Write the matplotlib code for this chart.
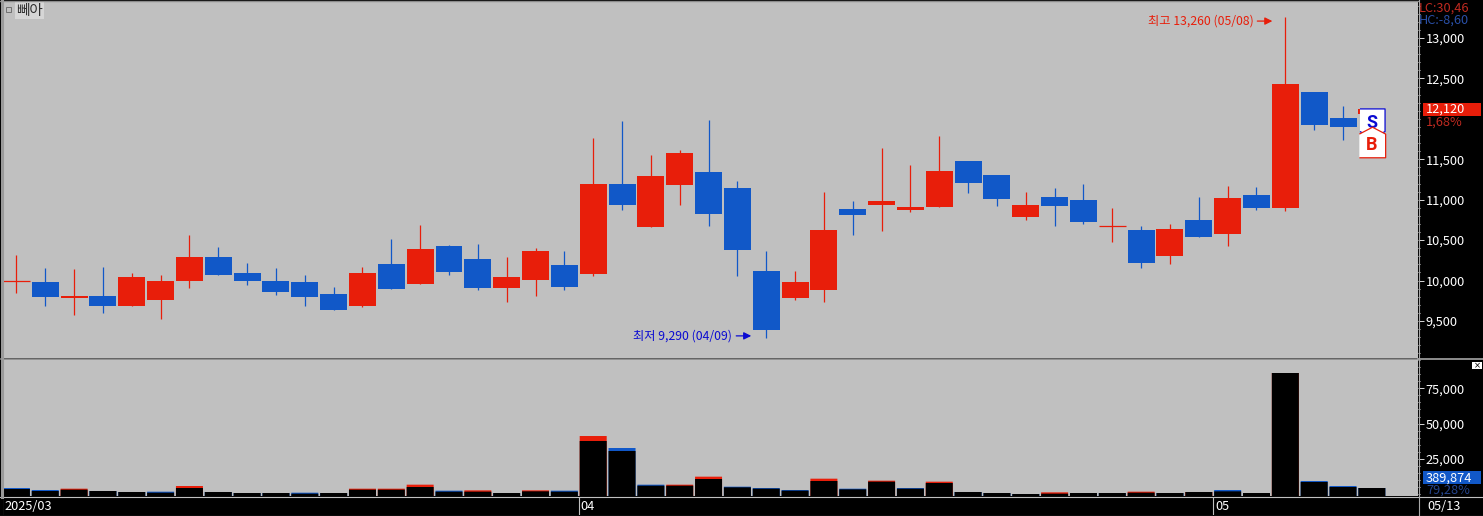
import matplotlib
matplotlib.use("Agg")
import matplotlib.pyplot as plt
import numpy as np
from matplotlib.ticker import FixedLocator, MultipleLocator, StrMethodFormatter
from matplotlib.transforms import offset_copy

plt.rcParams['font.family'] = ['Noto Sans CJK KR', 'DejaVu Sans']

RED = '#e81e0a'
BLUE = '#1158c8'
BG = '#c0c0c0'
LABEL_SIZE = 9.2

# daily candles, 2025/03 .. 05/13
opens = [10000, 9980, 9780, 9810, 9680, 9760, 9990, 10290, 10090, 9990,
         9980, 9830, 9690, 10200, 9960, 10430, 10270, 9910, 10010, 10190,
         10080, 11190, 10660, 11180, 11340, 11150, 10120, 9780, 9880, 10890,
         10930, 10870, 10910, 11480, 11310, 10790, 11030, 11000, 10670, 10630,
         10300, 10750, 10580, 11060, 10900, 12330, 12010, 12060]
closes = [10000, 9800, 9805, 9680, 10040, 9990, 10290, 10070, 9990, 9860,
          9800, 9630, 10090, 9900, 10390, 10100, 9910, 10040, 10370, 9920,
          11190, 10930, 11290, 11580, 10820, 10380, 9390, 9980, 10630, 10810,
          10980, 10910, 11360, 11210, 11010, 10930, 10920, 10720, 10670, 10220,
          10640, 10540, 11020, 10900, 12430, 11930, 11900, 12120]
highs = [10310, 10160, 10140, 10170, 10090, 10070, 10560, 10420, 10220, 10150,
         10070, 9920, 10170, 10510, 10690, 10440, 10450, 10290, 10400, 10370,
         11760, 11970, 11550, 11610, 11990, 11230, 10370, 10120, 11100, 10980,
         11640, 11430, 11790, 11480, 11310, 11100, 11150, 11190, 10900, 10670,
         10700, 11030, 11170, 11160, 13260, 12330, 12160, 12120]
lows = [9850, 9680, 9570, 9600, 9680, 9520, 9910, 10070, 9950, 9820,
        9680, 9630, 9670, 9900, 9960, 10070, 9880, 9730, 9810, 9880,
        10060, 10870, 10660, 10930, 10670, 10060, 9290, 9760, 9730, 10560,
        10610, 10850, 10910, 11080, 10920, 10750, 10670, 10700, 10480, 10160,
        10200, 10540, 10430, 10870, 10860, 11860, 11740, 12000]

# volume: black bar and the coloured cap on top of it
volume = [3780, 2360, 3300, 2360, 1660, 1180, 4480, 1660, 950, 950,
          480, 950, 3300, 3300, 5190, 1890, 1890, 950, 2130, 1890,
          37720, 30650, 6130, 6130, 10850, 4960, 4010, 2600, 9430, 3540,
          8960, 4010, 8020, 1660, 950, 240, 480, 950, 950, 1180,
          950, 1660, 2130, 950, 85800, 8730, 5190, 4480]
volume_cap = [4480, 3070, 4010, 2360, 1660, 1890, 5900, 1660, 950, 950,
              1180, 950, 4010, 4010, 6840, 2600, 2830, 950, 2830, 2600,
              41250, 32770, 6840, 6840, 12500, 5430, 4480, 3070, 11080, 4010,
              9670, 4480, 8960, 1660, 950, 240, 1420, 950, 950, 1890,
              950, 1660, 3070, 950, 85800, 9430, 5900, 4480]
cap_colors = list('bbrbbbrbbb' 'bbrrrbrbrb' 'rbbrrbbbrb' 'rbrbbbrbbr' 'brbbrbbb')

price_ticks = [9500, 10000, 10500, 11000, 11500, 12500, 13000]
volume_ticks = [25000, 50000, 75000]
month_starts = [0, 20, 42]
month_labels = ['2025/03', '04', '05']
last_date = '05/13'

high_label = '최고 13,260 (05/08)'
low_label = '최저 9,290 (04/09)'
high_idx = 44
low_idx = 26
sell_price = 11955
buy_price = 11714


def px_axes(fig, left, top, right, bottom):
    W, H = fig.get_size_inches() * fig.dpi
    return fig.add_axes([left / W, 1 - bottom / H, (right - left) / W, (bottom - top) / H])


def style_right(ax, major, minor, fmt):
    ax.yaxis.tick_right()
    ax.yaxis.set_major_locator(FixedLocator(major))
    ax.yaxis.set_minor_locator(MultipleLocator(minor))
    ax.yaxis.set_major_formatter(StrMethodFormatter(fmt))
    ax.tick_params(axis='y', which='major', length=4.5, width=0.7, color='#d8d8d8',
                   labelcolor='white', labelsize=LABEL_SIZE, pad=1)
    ax.tick_params(axis='y', which='minor', length=1.6, width=0.7, color='#d8d8d8')
    ax.tick_params(axis='x', which='both', bottom=False, labelbottom=False)
    for s in ax.spines.values():
        s.set_visible(False)


fig = plt.figure(figsize=(14.83, 5.16), dpi=100, facecolor='black')
x = np.arange(len(opens))
o, c, h, l = map(np.array, (opens, closes, highs, lows))
up = c >= o
colors = np.where(up, RED, BLUE)
xlim = (-0.465, 48.6)
bar_w = 0.936

# price pane
ax = px_axes(fig, 3, 1, 1418, 358)
ax.set_facecolor(BG)
ax.set_xlim(xlim)
ax.set_ylim(9041, 13459)
style_right(ax, price_ticks, 100, '{x:,.0f}')

ax.vlines(x, l, h, colors=colors, linewidth=0.9, zorder=2)
flat = o == c
ax.bar(x[~flat], np.abs(c - o)[~flat], bottom=np.minimum(o, c)[~flat], width=bar_w,
       color=colors[~flat], linewidth=0, zorder=3)
ax.hlines(o[flat], x[flat] - bar_w / 2, x[flat] + bar_w / 2, colors=colors[flat], linewidth=0.9, zorder=3)

# high / low notes, placed relative to their candles
for idx, price, label, col, dx, dy in ((high_idx, highs[high_idx], high_label, RED, -13, -4),
                                        (low_idx, lows[low_idx], low_label, '#0a0ad2', -15, 2)):
    tr = offset_copy(ax.transData, fig=fig, x=dx, y=dy, units='dots')
    ax.annotate('', xy=(idx, price), xycoords=tr,
                xytext=(-15, 0), textcoords='offset pixels',
                arrowprops=dict(arrowstyle='-|>', color=col, lw=0.9, mutation_scale=11,
                                shrinkA=0, shrinkB=0), zorder=6)
    ax.annotate(label, xy=(idx, price), xycoords=tr, xytext=(-19, 0), textcoords='offset pixels',
                ha='right', va='center', color=col, fontsize=8.8, zorder=6)

# S / B signal markers on the last candle
s_shape = [(-.86, 1), (.86, 1), (.86, -.55), (0, -1), (-.86, -.55)]
b_shape = [(-.86, -1), (.86, -1), (.86, .55), (0, 1), (-.86, .55)]
ax.plot([47], [sell_price], marker=s_shape, ms=21, mfc='white', mec='#0a0ad2', mew=0.9, zorder=7)
ax.text(47, sell_price, 'S', color='#0a0ad2', fontsize=13, fontweight='bold', family='Roboto',
        ha='center', va='center', zorder=8)
ax.plot([47], [buy_price], marker=b_shape, ms=22, mfc='white', mec=RED, mew=0.9, zorder=9)
ax.text(47, buy_price - 40, 'B', color=RED, fontsize=13, fontweight='bold', family='Roboto',
        ha='center', va='center', zorder=10)

# stock name, top left
ax.annotate('뻬아', xy=(0, 1), xycoords='axes fraction', xytext=(13, -9.5), textcoords='offset pixels',
            ha='left', va='center', color='#303030', fontsize=10.5,
            bbox=dict(boxstyle='square,pad=0.1', fc='#d6d6d6', ec='none'))
ax.plot([0.0035], [0.978], transform=ax.transAxes, marker='s', ms=3.6, mfc=BG, mec='#707070', mew=0.7)

# right strip labels
ax.annotate('LC:30,46', xy=(1, 1), xycoords='axes fraction', xytext=(1, -7), textcoords='offset pixels',
            color='#c02a20', fontsize=LABEL_SIZE, va='center', annotation_clip=False)
ax.annotate('HC:-8,60', xy=(1, 1), xycoords='axes fraction', xytext=(1, -19), textcoords='offset pixels',
            color='#2a50a8', fontsize=LABEL_SIZE, va='center', annotation_clip=False)
ax.annotate('12,120', xy=(1, closes[-1]), xycoords=('axes fraction', 'data'), xytext=(8, 0),
            textcoords='offset pixels', color='white', fontsize=LABEL_SIZE, va='center',
            annotation_clip=False, zorder=11)
ax.annotate('1,68%', xy=(1, closes[-1]), xycoords=('axes fraction', 'data'), xytext=(8, -13),
            textcoords='offset pixels', color='#c02a20', fontsize=LABEL_SIZE, va='center',
            annotation_clip=False)
ax.add_patch(plt.Rectangle((1.0035, closes[-1] - 85), 0.041, 165, transform=ax.get_yaxis_transform(),
                           fc=RED, ec='none', clip_on=False, zorder=4))

# volume pane
vol_ax = px_axes(fig, 3, 359, 1418, 496)
vol_ax.set_facecolor(BG)
vol_ax.set_xlim(xlim)
vol_ymin = -1170
vol_ax.set_ylim(vol_ymin, 95700)
style_right(vol_ax, volume_ticks, 5000, '{x:,.0f}')
vol = np.array(volume)
cap = np.array(volume_cap)
cap_col = [RED if k == 'r' else BLUE for k in cap_colors]
vol_ax.bar(x, cap - vol_ymin, bottom=vol_ymin, width=bar_w, color=cap_col, linewidth=0, zorder=2, snap=False)
vol_ax.bar(x, vol - vol_ymin, bottom=vol_ymin, width=bar_w, color='black', linewidth=0, zorder=3, snap=False)

vol_ax.annotate('389,874', xy=(1, 0), xycoords='axes fraction', xytext=(8, 18), textcoords='offset pixels',
                color='white', fontsize=LABEL_SIZE, va='center', annotation_clip=False, zorder=11)
vol_ax.annotate('79,28%', xy=(1, 0), xycoords='axes fraction', xytext=(8, 6), textcoords='offset pixels',
                color='#24448c', fontsize=LABEL_SIZE, va='center', annotation_clip=False)
vol_ax.add_patch(plt.Rectangle((1.0035, 12 / 137), 0.041, 13 / 137, transform=vol_ax.transAxes,
                               fc=BLUE, ec='none', clip_on=False, zorder=4))
vol_ax.add_patch(plt.Rectangle((1.0382, 0.925), 0.0072, 0.055, transform=vol_ax.transAxes,
                               fc='white', ec='none', clip_on=False, zorder=4))
vol_ax.text(1.0418, 0.952, '×', transform=vol_ax.transAxes, color='black', fontsize=6, family='DejaVu Sans',
            ha='center', va='center', clip_on=False, zorder=5)

# date strip
date_ax = px_axes(fig, 3, 497, 1418, 515)
date_ax.set_facecolor('black')
date_ax.set_xlim(xlim)
date_ax.set_ylim(0, 1)
date_ax.set_yticks([])
date_ax.tick_params(axis='x', which='both', bottom=False, labelbottom=False)
for s in date_ax.spines.values():
    s.set_visible(False)
for idx, label in zip(month_starts, month_labels):
    date_ax.axvline(idx - 0.5, color='#c0c0c0', lw=0.8)
    date_ax.annotate(label, xy=(idx - 0.5, 0.5), xycoords=('data', 'axes fraction'), xytext=(2, 0),
                     textcoords='offset pixels', color='white', fontsize=LABEL_SIZE, va='center')
date_ax.annotate(last_date, xy=(1, 0.5), xycoords='axes fraction', xytext=(9, 0), textcoords='offset pixels',
                 color='white', fontsize=LABEL_SIZE, va='center', annotation_clip=False)

# frame lines
W, H = fig.get_size_inches() * fig.dpi
fig.add_artist(plt.Line2D([0, 1418 / W], [1 - 358.5 / H] * 2, color='#848484', lw=1.1))
fig.add_artist(plt.Line2D([1418 / W, 1], [1 - 358.5 / H] * 2, color='#b4b4b4', lw=1.1))
for ypx in (496.5, 515.5):
    fig.add_artist(plt.Line2D([0, 1], [1 - ypx / H] * 2, color='#c0c0c0', lw=0.8))
fig.add_artist(plt.Line2D([0, 1418 / W], [1 - 0.5 / H] * 2, color='#8c8c8c', lw=1))
fig.add_artist(plt.Line2D([1.5 / W] * 2, [1 - 497 / H, 1], color='#9a9a9a', lw=2.2))
fig.add_artist(plt.Line2D([1418.5 / W] * 2, [0, 1], color='#a8a8a8', lw=0.8))

fig.savefig('out.png', dpi=100, facecolor='black')
